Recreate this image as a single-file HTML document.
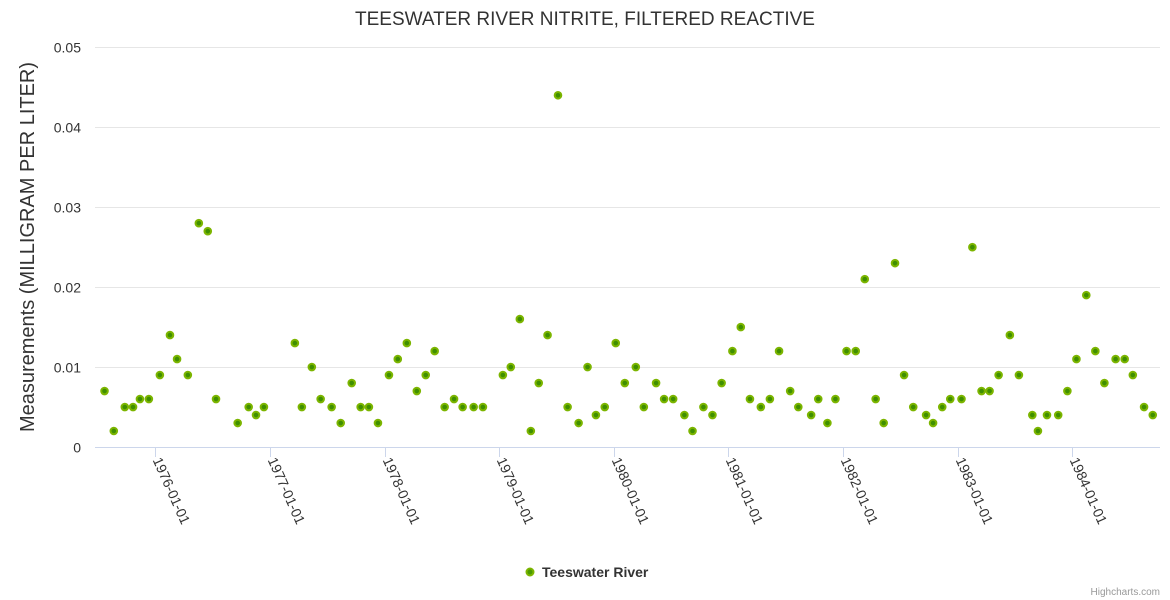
<!DOCTYPE html>
<html><head><meta charset="utf-8"><style>
html,body{margin:0;padding:0;background:#fff;}
svg{display:block;font-family:"Liberation Sans",sans-serif;}
</style></head><body>
<svg id="chart" width="1170" height="600" xmlns="http://www.w3.org/2000/svg">
<rect width="1170" height="600" fill="#fff"/>
<text x="585" y="25" text-anchor="middle" font-size="19" fill="#333">TEESWATER RIVER NITRITE, FILTERED REACTIVE</text>
<text transform="translate(34,247) rotate(-90)" text-anchor="middle" font-size="20" fill="#333">Measurements (MILLIGRAM PER LITER)</text>
<g id="grid"></g><g id="xaxis"></g><g id="pts"></g>
<g>
<circle cx="530" cy="572" r="3.5" fill="#4a9a00" stroke="#7cb500" stroke-width="2"/>
<text x="542" y="577" font-size="14" font-weight="bold" fill="#333">Teeswater River</text>
</g>
<text x="1160" y="595" text-anchor="end" font-size="10" fill="#999">Highcharts.com</text>
</svg>
<script>
const dates=[1975.556,1975.637,1975.733,1975.805,1975.865,1975.943,1976.039,1976.127,1976.189,1976.283,1976.379,1976.457,1976.529,1976.718,1976.814,1976.878,1976.947,1977.217,1977.278,1977.365,1977.442,1977.538,1977.617,1977.713,1977.791,1977.863,1977.942,1978.038,1978.115,1978.194,1978.281,1978.359,1978.437,1978.524,1978.606,1978.681,1978.777,1978.858,1979.032,1979.101,1979.180,1979.276,1979.345,1979.422,1979.513,1979.597,1979.693,1979.771,1979.844,1979.921,1980.017,1980.096,1980.192,1980.262,1980.369,1980.439,1980.518,1980.616,1980.687,1980.782,1980.861,1980.941,1981.035,1981.108,1981.188,1981.283,1981.362,1981.442,1981.539,1981.610,1981.722,1981.784,1981.864,1981.934,1982.031,1982.111,1982.190,1982.285,1982.355,1982.454,1982.533,1982.613,1982.725,1982.786,1982.866,1982.936,1983.034,1983.129,1983.209,1983.279,1983.358,1983.456,1983.535,1983.652,1983.701,1983.780,1983.878,1983.958,1984.037,1984.123,1984.202,1984.281,1984.379,1984.458,1984.529,1984.627,1984.703];
const values=[0.007,0.002,0.005,0.005,0.006,0.006,0.009,0.014,0.011,0.009,0.028,0.027,0.006,0.003,0.005,0.004,0.005,0.013,0.005,0.010,0.006,0.005,0.003,0.008,0.005,0.005,0.003,0.009,0.011,0.013,0.007,0.009,0.012,0.005,0.006,0.005,0.005,0.005,0.009,0.010,0.016,0.002,0.008,0.014,0.044,0.005,0.003,0.010,0.004,0.005,0.013,0.008,0.010,0.005,0.008,0.006,0.006,0.004,0.002,0.005,0.004,0.008,0.012,0.015,0.006,0.005,0.006,0.012,0.007,0.005,0.004,0.006,0.003,0.006,0.012,0.012,0.021,0.006,0.003,0.023,0.009,0.005,0.004,0.003,0.005,0.006,0.006,0.025,0.007,0.007,0.009,0.014,0.009,0.004,0.002,0.004,0.004,0.007,0.011,0.019,0.012,0.008,0.011,0.011,0.009,0.005,0.004];
const yTicks=[0,0.01,0.02,0.03,0.04,0.05];
const yTickLabels=["0","0.01","0.02","0.03","0.04","0.05"];
const xTicks=[1976,1977,1978,1979,1980,1981,1982,1983,1984];
const xTickLabels=["1976-01-01","1977-01-01","1978-01-01","1979-01-01","1980-01-01","1981-01-01","1982-01-01","1983-01-01","1984-01-01"];
const L=95,R=1160,T=47.3,B=447;
const xMin=1976-(155.4-L)/114.6, xMax=1976+(R-155.4)/114.6;
const xs=v=>L+(v-xMin)/(xMax-xMin)*(R-L);
const ys=v=>B-(v/0.05)*(B-T);
const NS="http://www.w3.org/2000/svg";
function mk(tag,attrs,parent){const e=document.createElementNS(NS,tag);for(const k in attrs)e.setAttribute(k,attrs[k]);parent.appendChild(e);return e;}
const grid=document.getElementById('grid');
yTicks.forEach((t,i)=>{
  const y=Math.round(ys(t))+0.5;
  if(t>0){const g=mk('line',{x1:L,x2:R,y1:y,y2:y,stroke:'#e6e6e6','stroke-width':1},grid);
  
  }
  const tx=mk('text',{x:81,y:y+5,'text-anchor':'end','font-size':14,fill:'#333'},grid);
  tx.textContent=yTickLabels[i];
  
  
});
const xa=document.getElementById('xaxis');
const al=mk('line',{x1:L,x2:R,y1:B+0.5,y2:B+0.5,stroke:'#ccd6eb','stroke-width':1},xa);


xTicks.forEach((t,i)=>{
  const x=Math.round(xs(t))+0.5;
  const tk=mk('line',{x1:x,x2:x,y1:B,y2:B+10,stroke:'#ccd6eb'},xa);
  
  
  const tx=mk('text',{x:x-3,y:B+13,'font-size':14,fill:'#333',transform:`rotate(66 ${x-3} ${B+13})`},xa);
  tx.textContent=xTickLabels[i];
  
  
});
const pts=document.getElementById('pts');
dates.forEach((d,i)=>{
  const c=mk('circle',{cx:xs(d),cy:ys(values[i]),r:3.3,fill:'#3f8f00',stroke:'#7cb500','stroke-width':2},pts);
  
  
});
</script>
</body></html>
